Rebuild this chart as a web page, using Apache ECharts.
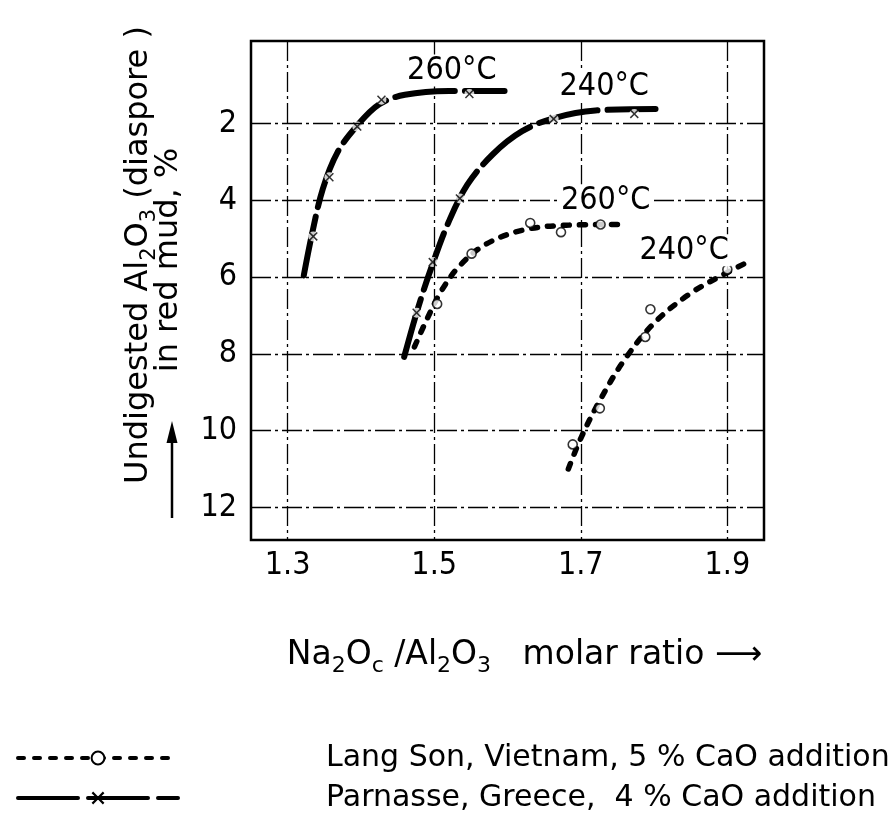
<!DOCTYPE html>
<html>
<head>
<meta charset="utf-8">
<script src="https://cdn.jsdelivr.net/npm/echarts@6/dist/echarts.min.js"></script>
<style>
  html, body { margin: 0; padding: 0; background: #fff; }
  #chart { width: 892px; height: 822px; }
</style>
</head>
<body>
<div id="chart"></div>
<script>
// Axis tick values
const xTicks = [1.3, 1.5, 1.7, 1.9];
const yTicks = [2, 4, 6, 8, 10, 12];

// Fitted curves: [Na2Oc/Al2O3 molar ratio, undigested Al2O3 in red mud %]
const parnasse260Curve = [[1.322, 5.96], [1.333, 4.90], [1.348, 3.70], [1.368, 2.75], [1.395, 2.05], [1.425, 1.50], [1.46, 1.25], [1.52, 1.15], [1.596, 1.15]];
const parnasse240Curve = [[1.459, 8.08], [1.478, 6.80], [1.498, 5.65], [1.52, 4.55], [1.545, 3.60], [1.58, 2.80], [1.62, 2.20], [1.665, 1.85], [1.72, 1.66], [1.802, 1.62]];
const langSon260Curve = [[1.473, 7.82], [1.49, 7.10], [1.51, 6.35], [1.535, 5.70], [1.57, 5.15], [1.62, 4.78], [1.68, 4.65], [1.75, 4.63]];
const langSon240Curve = [[1.683, 11.0], [1.70, 10.2], [1.725, 9.25], [1.758, 8.20], [1.80, 7.20], [1.85, 6.42], [1.9, 5.88], [1.934, 5.55]];

// Measured points
const parnasse260Points = [[1.335, 4.94], [1.357, 3.40], [1.395, 2.08], [1.428, 1.38], [1.548, 1.23]];
const parnasse240Points = [[1.476, 6.93], [1.498, 5.61], [1.535, 3.95], [1.663, 1.88], [1.773, 1.75]];
const langSon260Points = [[1.504, 6.70], [1.551, 5.39], [1.631, 4.59], [1.673, 4.83], [1.727, 4.63]];
const langSon240Points = [[1.689, 10.36], [1.726, 9.42], [1.788, 7.56], [1.795, 6.84], [1.9, 5.80]];

// Temperature captions and where they sit (data coordinates)
const curveLabels = ['260°C', '240°C', '260°C', '240°C'];
const curveLabelAt = [[1.524, 0.62], [1.732, 1.05], [1.734, 4.0], [1.841, 5.3]];

const LANG_SON = 'Lang Son, Vietnam, 5 % CaO addition';
const PARNASSE = 'Parnasse, Greece,  4 % CaO addition';

const NUM_FONT = '"DejaVu Sans Condensed", "DejaVu Sans", sans-serif';
const TXT_FONT = '"DejaVu Sans", sans-serif';
const CROSS = 'path://M0,1.2L1.2,0L5,3.8L8.8,0L10,1.2L6.2,5L10,8.8L8.8,10L5,6.2L1.2,10L0,8.8L3.8,5Z';

function subRich(size, lh) {
  return { s: { fontSize: size, fontFamily: TXT_FONT, color: '#000', fill: '#000', verticalAlign: 'bottom', lineHeight: lh } };
}

const chart = echarts.init(document.getElementById('chart'), null, { renderer: 'canvas' });

function curveSeries(name, data, dashed) {
  return {
    name: name,
    type: 'line',
    data: data,
    smooth: 0.35,
    showSymbol: false,
    symbol: dashed ? 'emptyCircle' : CROSS,
    symbolSize: dashed ? 10 : 11,
    silent: true,
    z: 3,
    itemStyle: { color: '#000', borderColor: '#000' },
    lineStyle: dashed
      ? { color: '#000', width: 5.5, type: [6, 10], cap: 'round' }
      : { color: '#000', width: 6, type: [60, 10], cap: 'round' }
  };
}

function pointSeries(data, kind) {
  if (kind === 'circle') {
    return { type: 'scatter', data: data, symbol: 'circle', symbolSize: 9, silent: true, z: 5,
      itemStyle: { color: '#fff', borderColor: '#000', borderWidth: 1.6 } };
  }
  if (kind === 'mask') {
    return { type: 'scatter', data: data, symbol: 'circle', symbolSize: 10, silent: true, z: 4,
      itemStyle: { color: '#fff', borderWidth: 0 } };
  }
  return { type: 'scatter', data: data, symbol: CROSS, symbolSize: 9, silent: true, z: 6,
    itemStyle: { color: '#000' } };
}

const option = {
  animation: false,
  backgroundColor: '#fff',
  grid: { left: 251, top: 41, right: 128, bottom: 282, show: true, borderColor: '#000', borderWidth: 2.5, backgroundColor: 'transparent' },
  xAxis: {
    type: 'value', min: 1.25, max: 1.95,
    axisLine: { show: false }, axisTick: { show: false }, splitLine: { show: false },
    axisLabel: { customValues: xTicks, formatter: v => v.toFixed(1), fontSize: 32, fontFamily: NUM_FONT, color: '#000', margin: 10 },
    name: 'Na{s|2}O{s|c} /Al{s|2}O{s|3}   molar ratio ⟶',
    nameLocation: 'middle', nameGap: 93,
    nameTextStyle: { fontSize: 33, fontFamily: TXT_FONT, color: '#000', lineHeight: 44, padding: [0, 0, 0, 34], rich: subRich(22, 44) }
  },
  yAxis: {
    type: 'value', inverse: true, min: -0.15, max: 12.85,
    axisLine: { show: false }, axisTick: { show: false }, splitLine: { show: false },
    axisLabel: { customValues: yTicks, fontSize: 32, fontFamily: NUM_FONT, color: '#000', margin: 14 }
  },
  legend: {
    orient: 'vertical', left: 11, top: 738, itemWidth: 160, itemHeight: 16, itemGap: 10,
    selectedMode: false,
    data: [LANG_SON, PARNASSE],
    lineStyle: { width: 4 },
    textStyle: { fontSize: 30, fontFamily: TXT_FONT, color: '#000', padding: [0, 0, 0, 143] }
  },
  graphic: [
    { type: 'text', x: 139, y: 255, rotation: Math.PI / 2, silent: true,
      style: { text: 'Undigested Al{s|2}O{s|3} (diaspore )', fontSize: 32, fontFamily: TXT_FONT, fill: '#000',
        align: 'center', verticalAlign: 'middle', lineHeight: 42, rich: subRich(21, 42) } },
    { type: 'text', x: 169, y: 260, rotation: Math.PI / 2, silent: true,
      style: { text: 'in red mud, %', fontSize: 32, fontFamily: TXT_FONT, fill: '#000', align: 'center', verticalAlign: 'middle' } },
    { type: 'line', silent: true, shape: { x1: 172, y1: 518, x2: 172, y2: 440 }, style: { stroke: '#000', lineWidth: 2.5 } },
    { type: 'polygon', silent: true, shape: { points: [[172, 421], [166.5, 443], [177.5, 443]] }, style: { fill: '#000' } }
  ],
  series: [
    {
      type: 'line', data: [], silent: true, z: 1,
      markLine: {
        silent: true, symbol: 'none', label: { show: false },
        lineStyle: { color: '#000', width: 1.3, type: [20, 4, 3, 4] },
        data: [...xTicks.map(v => ({ xAxis: v })), ...yTicks.map(v => ({ yAxis: v }))]
      }
    },
    curveSeries(LANG_SON, langSon260Curve, true),
    curveSeries(LANG_SON, langSon240Curve, true),
    curveSeries(PARNASSE, parnasse260Curve, false),
    curveSeries(PARNASSE, parnasse240Curve, false),
    pointSeries(langSon260Points, 'circle'),
    pointSeries(langSon240Points, 'circle'),
    pointSeries(parnasse260Points, 'mask'),
    pointSeries(parnasse240Points, 'mask'),
    pointSeries(parnasse260Points, 'cross'),
    pointSeries(parnasse240Points, 'cross'),
    {
      type: 'scatter', silent: true, z: 8,
      symbolSize: 1, itemStyle: { color: '#fff', opacity: 1 },
      data: curveLabels.map((t, i) => ({ name: t, value: curveLabelAt[i] })),
      label: { show: true, position: 'inside', formatter: '{b}', fontSize: 32, fontFamily: NUM_FONT,
        color: '#000', opacity: 1, textBorderWidth: 0, backgroundColor: '#fff', padding: [0, 2] }
    }
  ]
};

chart.setOption(option);
</script>
</body>
</html>
